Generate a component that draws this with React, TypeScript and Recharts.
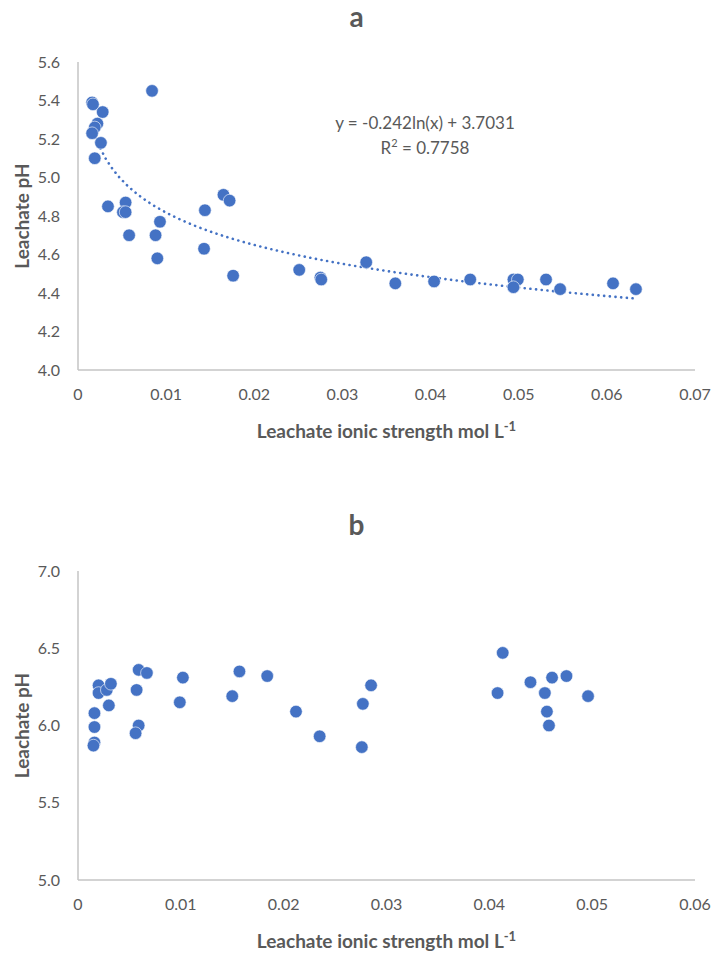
import { ScatterChart, Scatter, XAxis, YAxis } from "recharts";

// panel a: leachate ionic strength (mol/L) vs pH
const ionicA = [
  0.0016, 0.0017, 0.0028, 0.0022, 0.0019, 0.0016, 0.0026, 0.0019, 0.0034, 0.0054,
  0.0051, 0.0054, 0.0058, 0.0084, 0.0088, 0.0093, 0.009, 0.0144, 0.0143, 0.0165,
  0.0172, 0.0176, 0.0251, 0.0275, 0.0276, 0.0327, 0.036, 0.0404, 0.0445, 0.0494,
  0.0499, 0.0494, 0.0531, 0.0547, 0.0607, 0.0633,
];
const phA = [
  5.39, 5.38, 5.34, 5.28, 5.26, 5.23, 5.18, 5.1, 4.85, 4.87,
  4.82, 4.82, 4.7, 5.45, 4.7, 4.77, 4.58, 4.83, 4.63, 4.91,
  4.88, 4.49, 4.52, 4.48, 4.47, 4.56, 4.45, 4.46, 4.47, 4.47,
  4.47, 4.43, 4.47, 4.42, 4.45, 4.42,
];

// panel b
const ionicB = [
  0.002, 0.002, 0.0028, 0.0032, 0.003, 0.0016, 0.0016, 0.0016, 0.0015, 0.0059,
  0.0067, 0.0057, 0.0059, 0.0056, 0.0102, 0.0099, 0.0157, 0.0184, 0.015, 0.0212,
  0.0235, 0.0277, 0.0276, 0.0285, 0.0413, 0.0408, 0.044, 0.0461, 0.0475, 0.0454,
  0.0456, 0.0458, 0.0496,
];
const phB = [
  6.26, 6.21, 6.23, 6.27, 6.13, 6.08, 5.99, 5.89, 5.87, 6.36,
  6.34, 6.23, 6.0, 5.95, 6.31, 6.15, 6.35, 6.32, 6.19, 6.09,
  5.93, 6.14, 5.86, 6.26, 6.47, 6.21, 6.28, 6.31, 6.32, 6.21,
  6.09, 6.0, 6.19,
];

// log trendline for panel a: y = slope*ln(x) + intercept
const trendSlope = -0.242;
const trendIntercept = 3.7031;
const trendR2 = "0.7758";

const xTicksA = [0, 0.01, 0.02, 0.03, 0.04, 0.05, 0.06, 0.07];
const yTicksA = [4.0, 4.2, 4.4, 4.6, 4.8, 5.0, 5.2, 5.4, 5.6];
const xTicksB = [0, 0.01, 0.02, 0.03, 0.04, 0.05, 0.06];
const yTicksB = [5.0, 5.5, 6.0, 6.5, 7.0];

const BLUE = "#4472C4";
const AXIS = "#c4c4c4";
const TEXT = "#595959";
const FONT = "Lato, 'Open Sans', sans-serif";

const pointsA = ionicA.map((x, i) => ({ x, y: phA[i] }));
const pointsB = ionicB.map((x, i) => ({ x, y: phB[i] }));

const xMin = Math.min(...ionicA);
const xMax = Math.max(...ionicA);
const trend = Array.from({ length: 80 }, (_, i) => {
  const x = xMin + ((xMax - xMin) * i) / 79;
  return { x, y: trendSlope * Math.log(x) + trendIntercept };
});

const Dot = (p: any) => (
  <circle cx={p.cx} cy={p.cy} r={6.3} fill={BLUE} stroke="#ffffff" strokeWidth={0.6} />
);

const tickStyle = { fill: TEXT, fontSize: 16, fontFamily: FONT };

const XTitle = ({ viewBox }: any) => (
  <text
    x={viewBox.x + viewBox.width / 2}
    y={viewBox.y + 68}
    textAnchor="middle"
    fill={TEXT}
    fontSize={19}
    fontWeight="bold"
    fontFamily={FONT}
  >
    Leachate ionic strength mol L
    <tspan dy={-7} fontSize={13}>
      -1
    </tspan>
  </text>
);

const YTitle = ({ viewBox }: any) => {
  const cx = 21;
  const cy = viewBox.y + viewBox.height / 2;
  return (
    <text
      x={cx}
      y={cy}
      transform={`rotate(-90 ${cx} ${cy})`}
      textAnchor="middle"
      dominantBaseline="central"
      fill={TEXT}
      fontSize={19}
      fontWeight="bold"
      fontFamily={FONT}
    >
      Leachate pH
    </text>
  );
};

const Title = ({ text, top }: { text: string; top: number }) => (
  <div
    style={{
      position: "absolute",
      top,
      left: 0,
      width: 713,
      textAlign: "center",
      color: TEXT,
      fontFamily: FONT,
      fontWeight: "bold",
      fontSize: 28,
      lineHeight: "32px",
    }}
  >
    {text}
  </div>
);

const fmtX = (v: number) => (v === 0 ? "0" : String(v));

const App = () => {
  return (
    <div style={{ position: "absolute", left: 0, top: 0, width: 713, height: 954, background: "#fff" }}>
      <Title text="a" top={0} />
      <div style={{ position: "absolute", top: 0, left: 0 }}>
        <ScatterChart width={713} height={470} margin={{ top: 62, right: 18, bottom: 70, left: 0 }}>
          <XAxis
            type="number"
            dataKey="x"
            domain={[0, 0.07]}
            ticks={xTicksA}
            tickFormatter={fmtX}
            tickLine={false}
            tickMargin={13}
            stroke={AXIS}
            strokeWidth={1.5}
            tick={tickStyle}
            height={30}
            label={<XTitle />}
          />
          <YAxis
            type="number"
            dataKey="y"
            domain={[4.0, 5.6]}
            ticks={yTicksA}
            tickFormatter={(v: number) => v.toFixed(1)}
            tickLine={false}
            tickMargin={12}
            stroke={AXIS}
            strokeWidth={1.5}
            tick={tickStyle}
            width={78}
            label={<YTitle />}
          />
          <Scatter
            data={trend}
            line={{ stroke: BLUE, strokeWidth: 2.6, strokeDasharray: "0.1 5.6", strokeLinecap: "round" }}
            lineType="joint"
            shape={() => <g />}
            isAnimationActive={false}
          />
          <Scatter data={pointsA} shape={Dot} isAnimationActive={false} />
        </ScatterChart>
      </div>
      <div
        style={{
          position: "absolute",
          top: 110,
          left: 325,
          width: 200,
          textAlign: "center",
          color: TEXT,
          fontFamily: FONT,
          fontSize: 17,
          lineHeight: "25px",
        }}
      >
        <div>y = {trendSlope}ln(x) + {trendIntercept}</div>
        <div>
          R<sup style={{ fontSize: 11, lineHeight: 0 }}>2</sup> = {trendR2}
        </div>
      </div>

      <Title text="b" top={508} />
      <div style={{ position: "absolute", top: 480, left: 0 }}>
        <ScatterChart width={713} height={474} margin={{ top: 91, right: 18, bottom: 44, left: 0 }}>
          <XAxis
            type="number"
            dataKey="x"
            domain={[0, 0.06]}
            ticks={xTicksB}
            tickFormatter={fmtX}
            tickLine={false}
            tickMargin={13}
            stroke={AXIS}
            strokeWidth={1.5}
            tick={tickStyle}
            height={30}
            label={<XTitle />}
          />
          <YAxis
            type="number"
            dataKey="y"
            domain={[5.0, 7.0]}
            ticks={yTicksB}
            tickFormatter={(v: number) => v.toFixed(1)}
            tickLine={false}
            tickMargin={12}
            stroke={AXIS}
            strokeWidth={1.5}
            tick={tickStyle}
            width={78}
            label={<YTitle />}
          />
          <Scatter data={pointsB} shape={Dot} isAnimationActive={false} />
        </ScatterChart>
      </div>
    </div>
  );
};

export default App;
